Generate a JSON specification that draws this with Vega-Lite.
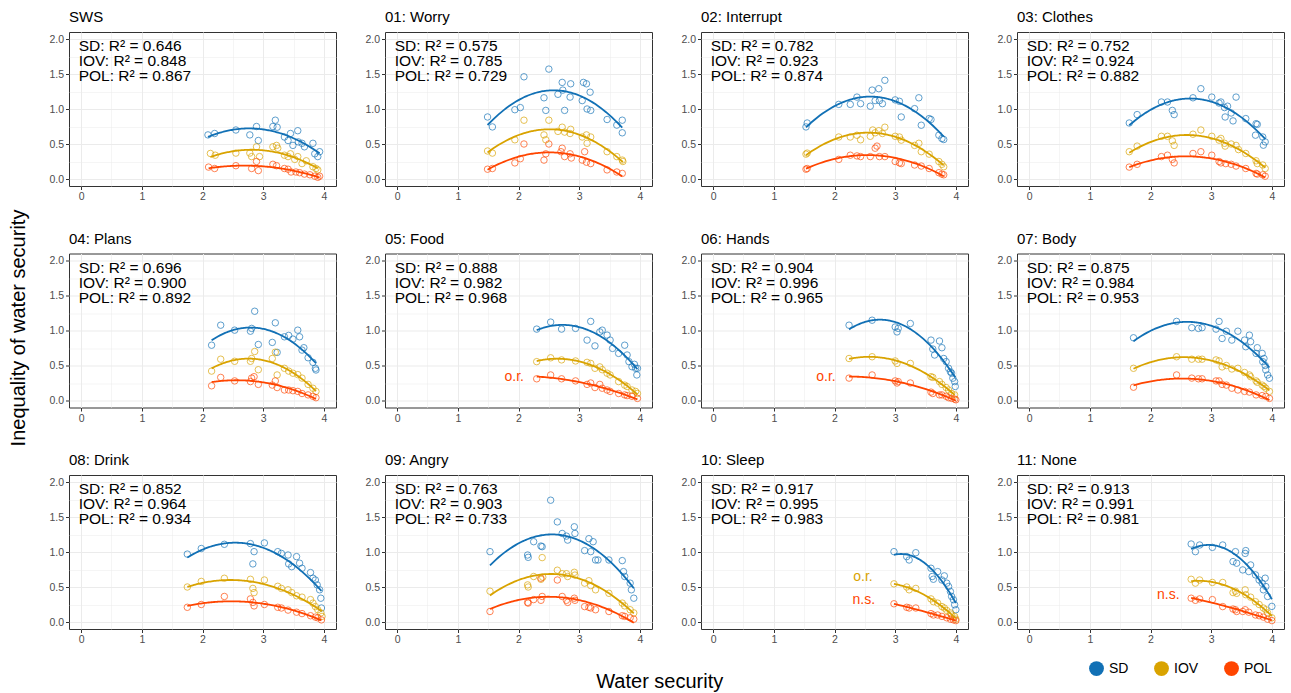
{
"$schema": "https://vega.github.io/schema/vega-lite/v6.json",
"padding": {"left": 8, "top": 9, "right": 0, "bottom": 0},
"background": "white",
"datasets": {
"panels": [
{"p":"SWS","t":"SWS","r":1,"c":1,"lab":"SD: R² = 0.646\nIOV: R² = 0.848\nPOL: R² = 0.867"},
{"p":"01","t":"01: Worry","r":1,"c":2,"lab":"SD: R² = 0.575\nIOV: R² = 0.785\nPOL: R² = 0.729"},
{"p":"02","t":"02: Interrupt","r":1,"c":3,"lab":"SD: R² = 0.782\nIOV: R² = 0.923\nPOL: R² = 0.874"},
{"p":"03","t":"03: Clothes","r":1,"c":4,"lab":"SD: R² = 0.752\nIOV: R² = 0.924\nPOL: R² = 0.882"},
{"p":"04","t":"04: Plans","r":2,"c":1,"lab":"SD: R² = 0.696\nIOV: R² = 0.900\nPOL: R² = 0.892"},
{"p":"05","t":"05: Food","r":2,"c":2,"lab":"SD: R² = 0.888\nIOV: R² = 0.982\nPOL: R² = 0.968"},
{"p":"06","t":"06: Hands","r":2,"c":3,"lab":"SD: R² = 0.904\nIOV: R² = 0.996\nPOL: R² = 0.965"},
{"p":"07","t":"07: Body","r":2,"c":4,"lab":"SD: R² = 0.875\nIOV: R² = 0.984\nPOL: R² = 0.953"},
{"p":"08","t":"08: Drink","r":3,"c":1,"lab":"SD: R² = 0.852\nIOV: R² = 0.964\nPOL: R² = 0.934"},
{"p":"09","t":"09: Angry","r":3,"c":2,"lab":"SD: R² = 0.763\nIOV: R² = 0.903\nPOL: R² = 0.733"},
{"p":"10","t":"10: Sleep","r":3,"c":3,"lab":"SD: R² = 0.917\nIOV: R² = 0.995\nPOL: R² = 0.983"},
{"p":"11","t":"11: None","r":3,"c":4,"lab":"SD: R² = 0.913\nIOV: R² = 0.991\nPOL: R² = 0.981"}
],
"rows": [
{"p":"SWS","k":"lab"},{"p":"01","k":"lab"},{"p":"02","k":"lab"},{"p":"03","k":"lab"},{"p":"04","k":"lab"},{"p":"05","k":"lab"},{"p":"06","k":"lab"},{"p":"07","k":"lab"},{"p":"08","k":"lab"},{"p":"09","k":"lab"},{"p":"10","k":"lab"},{"p":"11","k":"lab"},
{"p":"05","k":"note","s":"POL","x":2.09,"y":0.33,"note":"o.r."},
{"p":"06","k":"note","s":"POL","x":2.02,"y":0.33,"note":"o.r."},
{"p":"10","k":"note","s":"IOV","x":2.63,"y":0.65,"note":"o.r."},
{"p":"10","k":"note","s":"POL","x":2.67,"y":0.31,"note":"n.s."},
{"p":"11","k":"note","s":"POL","x":2.48,"y":0.39,"note":"n.s."},
{"p":"SWS","s":"SD","x":2.09,"y":0.63},{"p":"SWS","s":"SD","x":2.20,"y":0.65},{"p":"SWS","s":"SD","x":2.55,"y":0.70},{"p":"SWS","s":"SD","x":2.78,"y":0.63},{"p":"SWS","s":"SD","x":2.89,"y":0.75},{"p":"SWS","s":"SD","x":2.92,"y":0.55},{"p":"SWS","s":"SD","x":3.16,"y":0.75},{"p":"SWS","s":"SD","x":3.20,"y":0.84},{"p":"SWS","s":"SD","x":3.23,"y":0.74},{"p":"SWS","s":"SD","x":3.35,"y":0.60},{"p":"SWS","s":"SD","x":3.41,"y":0.55},{"p":"SWS","s":"SD","x":3.45,"y":0.65},{"p":"SWS","s":"SD","x":3.49,"y":0.48},{"p":"SWS","s":"SD","x":3.57,"y":0.69},{"p":"SWS","s":"SD","x":3.58,"y":0.53},{"p":"SWS","s":"SD","x":3.64,"y":0.51},{"p":"SWS","s":"SD","x":3.68,"y":0.46},{"p":"SWS","s":"SD","x":3.82,"y":0.51},{"p":"SWS","s":"SD","x":3.85,"y":0.36},{"p":"SWS","s":"SD","x":3.90,"y":0.32},{"p":"SWS","s":"SD","x":3.93,"y":0.39},
{"p":"SWS","s":"IOV","x":2.13,"y":0.365},{"p":"SWS","s":"IOV","x":2.21,"y":0.34},{"p":"SWS","s":"IOV","x":2.55,"y":0.37},{"p":"SWS","s":"IOV","x":2.78,"y":0.37},{"p":"SWS","s":"IOV","x":2.81,"y":0.32},{"p":"SWS","s":"IOV","x":2.89,"y":0.46},{"p":"SWS","s":"IOV","x":2.94,"y":0.32},{"p":"SWS","s":"IOV","x":3.16,"y":0.46},{"p":"SWS","s":"IOV","x":3.22,"y":0.48},{"p":"SWS","s":"IOV","x":3.24,"y":0.44},{"p":"SWS","s":"IOV","x":3.35,"y":0.34},{"p":"SWS","s":"IOV","x":3.41,"y":0.32},{"p":"SWS","s":"IOV","x":3.45,"y":0.36},{"p":"SWS","s":"IOV","x":3.52,"y":0.28},{"p":"SWS","s":"IOV","x":3.57,"y":0.32},{"p":"SWS","s":"IOV","x":3.64,"y":0.22},{"p":"SWS","s":"IOV","x":3.71,"y":0.26},{"p":"SWS","s":"IOV","x":3.82,"y":0.175},{"p":"SWS","s":"IOV","x":3.87,"y":0.15},{"p":"SWS","s":"IOV","x":3.90,"y":0.13},
{"p":"SWS","s":"POL","x":2.10,"y":0.17},{"p":"SWS","s":"POL","x":2.20,"y":0.15},{"p":"SWS","s":"POL","x":2.55,"y":0.19},{"p":"SWS","s":"POL","x":2.81,"y":0.15},{"p":"SWS","s":"POL","x":2.92,"y":0.12},{"p":"SWS","s":"POL","x":2.89,"y":0.25},{"p":"SWS","s":"POL","x":3.16,"y":0.21},{"p":"SWS","s":"POL","x":3.22,"y":0.19},{"p":"SWS","s":"POL","x":3.35,"y":0.15},{"p":"SWS","s":"POL","x":3.41,"y":0.14},{"p":"SWS","s":"POL","x":3.46,"y":0.10},{"p":"SWS","s":"POL","x":3.54,"y":0.10},{"p":"SWS","s":"POL","x":3.60,"y":0.09},{"p":"SWS","s":"POL","x":3.68,"y":0.07},{"p":"SWS","s":"POL","x":3.77,"y":0.06},{"p":"SWS","s":"POL","x":3.85,"y":0.04},{"p":"SWS","s":"POL","x":3.90,"y":0.024},{"p":"SWS","s":"POL","x":3.93,"y":0.04},
{"p":"01","s":"SD","x":1.49,"y":0.886},{"p":"01","s":"SD","x":1.57,"y":0.744},{"p":"01","s":"SD","x":1.94,"y":0.99},{"p":"01","s":"SD","x":2.03,"y":1.02},{"p":"01","s":"SD","x":2.09,"y":1.46},{"p":"01","s":"SD","x":2.42,"y":1.16},{"p":"01","s":"SD","x":2.45,"y":0.98},{"p":"01","s":"SD","x":2.50,"y":1.57},{"p":"01","s":"SD","x":2.65,"y":1.21},{"p":"01","s":"SD","x":2.72,"y":1.38},{"p":"01","s":"SD","x":2.73,"y":1.27},{"p":"01","s":"SD","x":2.76,"y":0.98},{"p":"01","s":"SD","x":2.85,"y":1.17},{"p":"01","s":"SD","x":2.86,"y":1.36},{"p":"01","s":"SD","x":3.05,"y":1.12},{"p":"01","s":"SD","x":3.07,"y":1.38},{"p":"01","s":"SD","x":3.12,"y":1.36},{"p":"01","s":"SD","x":3.13,"y":1.00},{"p":"01","s":"SD","x":3.18,"y":1.24},{"p":"01","s":"SD","x":3.19,"y":0.98},{"p":"01","s":"SD","x":3.46,"y":0.85},{"p":"01","s":"SD","x":3.62,"y":0.77},{"p":"01","s":"SD","x":3.71,"y":0.84},{"p":"01","s":"SD","x":3.71,"y":0.66},
{"p":"01","s":"IOV","x":1.49,"y":0.40},{"p":"01","s":"IOV","x":1.57,"y":0.37},{"p":"01","s":"IOV","x":1.94,"y":0.56},{"p":"01","s":"IOV","x":2.09,"y":0.84},{"p":"01","s":"IOV","x":2.42,"y":0.63},{"p":"01","s":"IOV","x":2.45,"y":0.56},{"p":"01","s":"IOV","x":2.50,"y":0.84},{"p":"01","s":"IOV","x":2.65,"y":0.68},{"p":"01","s":"IOV","x":2.72,"y":0.74},{"p":"01","s":"IOV","x":2.76,"y":0.67},{"p":"01","s":"IOV","x":2.85,"y":0.65},{"p":"01","s":"IOV","x":2.86,"y":0.71},{"p":"01","s":"IOV","x":3.05,"y":0.60},{"p":"01","s":"IOV","x":3.12,"y":0.63},{"p":"01","s":"IOV","x":3.13,"y":0.51},{"p":"01","s":"IOV","x":3.19,"y":0.60},{"p":"01","s":"IOV","x":3.46,"y":0.39},{"p":"01","s":"IOV","x":3.62,"y":0.32},{"p":"01","s":"IOV","x":3.71,"y":0.27},{"p":"01","s":"IOV","x":3.72,"y":0.25},
{"p":"01","s":"POL","x":1.49,"y":0.14},{"p":"01","s":"POL","x":1.57,"y":0.15},{"p":"01","s":"POL","x":1.94,"y":0.23},{"p":"01","s":"POL","x":2.03,"y":0.29},{"p":"01","s":"POL","x":2.09,"y":0.50},{"p":"01","s":"POL","x":2.42,"y":0.27},{"p":"01","s":"POL","x":2.45,"y":0.36},{"p":"01","s":"POL","x":2.50,"y":0.50},{"p":"01","s":"POL","x":2.70,"y":0.39},{"p":"01","s":"POL","x":2.72,"y":0.44},{"p":"01","s":"POL","x":2.76,"y":0.32},{"p":"01","s":"POL","x":2.85,"y":0.36},{"p":"01","s":"POL","x":2.87,"y":0.30},{"p":"01","s":"POL","x":3.05,"y":0.27},{"p":"01","s":"POL","x":3.09,"y":0.39},{"p":"01","s":"POL","x":3.12,"y":0.24},{"p":"01","s":"POL","x":3.19,"y":0.22},{"p":"01","s":"POL","x":3.46,"y":0.13},{"p":"01","s":"POL","x":3.62,"y":0.10},{"p":"01","s":"POL","x":3.71,"y":0.08},
{"p":"02","s":"SD","x":1.53,"y":0.744},{"p":"02","s":"SD","x":1.55,"y":0.80},{"p":"02","s":"SD","x":2.07,"y":1.066},{"p":"02","s":"SD","x":2.26,"y":1.066},{"p":"02","s":"SD","x":2.37,"y":1.17},{"p":"02","s":"SD","x":2.43,"y":1.076},{"p":"02","s":"SD","x":2.59,"y":1.04},{"p":"02","s":"SD","x":2.62,"y":1.27},{"p":"02","s":"SD","x":2.67,"y":1.12},{"p":"02","s":"SD","x":2.73,"y":1.29},{"p":"02","s":"SD","x":2.74,"y":1.12},{"p":"02","s":"SD","x":2.83,"y":1.41},{"p":"02","s":"SD","x":2.79,"y":1.076},{"p":"02","s":"SD","x":3.00,"y":1.13},{"p":"02","s":"SD","x":3.07,"y":1.11},{"p":"02","s":"SD","x":3.10,"y":0.886},{"p":"02","s":"SD","x":3.32,"y":1.005},{"p":"02","s":"SD","x":3.39,"y":1.16},{"p":"02","s":"SD","x":3.43,"y":0.768},{"p":"02","s":"SD","x":3.56,"y":0.863},{"p":"02","s":"SD","x":3.59,"y":0.85},{"p":"02","s":"SD","x":3.72,"y":0.626},{"p":"02","s":"SD","x":3.77,"y":0.578},{"p":"02","s":"SD","x":3.80,"y":0.564},
{"p":"02","s":"IOV","x":1.53,"y":0.355},{"p":"02","s":"IOV","x":1.55,"y":0.37},{"p":"02","s":"IOV","x":2.07,"y":0.60},{"p":"02","s":"IOV","x":2.26,"y":0.60},{"p":"02","s":"IOV","x":2.37,"y":0.625},{"p":"02","s":"IOV","x":2.43,"y":0.56},{"p":"02","s":"IOV","x":2.59,"y":0.61},{"p":"02","s":"IOV","x":2.63,"y":0.70},{"p":"02","s":"IOV","x":2.67,"y":0.66},{"p":"02","s":"IOV","x":2.73,"y":0.69},{"p":"02","s":"IOV","x":2.79,"y":0.65},{"p":"02","s":"IOV","x":2.83,"y":0.74},{"p":"02","s":"IOV","x":3.00,"y":0.61},{"p":"02","s":"IOV","x":3.07,"y":0.60},{"p":"02","s":"IOV","x":3.10,"y":0.555},{"p":"02","s":"IOV","x":3.32,"y":0.48},{"p":"02","s":"IOV","x":3.39,"y":0.51},{"p":"02","s":"IOV","x":3.43,"y":0.39},{"p":"02","s":"IOV","x":3.56,"y":0.355},{"p":"02","s":"IOV","x":3.72,"y":0.25},{"p":"02","s":"IOV","x":3.77,"y":0.21},{"p":"02","s":"IOV","x":3.80,"y":0.175},
{"p":"02","s":"POL","x":1.53,"y":0.14},{"p":"02","s":"POL","x":1.55,"y":0.15},{"p":"02","s":"POL","x":2.07,"y":0.28},{"p":"02","s":"POL","x":2.26,"y":0.34},{"p":"02","s":"POL","x":2.37,"y":0.33},{"p":"02","s":"POL","x":2.43,"y":0.32},{"p":"02","s":"POL","x":2.59,"y":0.32},{"p":"02","s":"POL","x":2.67,"y":0.44},{"p":"02","s":"POL","x":2.70,"y":0.47},{"p":"02","s":"POL","x":2.74,"y":0.32},{"p":"02","s":"POL","x":2.83,"y":0.32},{"p":"02","s":"POL","x":3.00,"y":0.25},{"p":"02","s":"POL","x":3.07,"y":0.23},{"p":"02","s":"POL","x":3.10,"y":0.22},{"p":"02","s":"POL","x":3.32,"y":0.20},{"p":"02","s":"POL","x":3.43,"y":0.185},{"p":"02","s":"POL","x":3.56,"y":0.15},{"p":"02","s":"POL","x":3.72,"y":0.09},{"p":"02","s":"POL","x":3.77,"y":0.07},{"p":"02","s":"POL","x":3.80,"y":0.06},
{"p":"03","s":"SD","x":1.65,"y":0.80},{"p":"03","s":"SD","x":1.78,"y":0.92},{"p":"03","s":"SD","x":2.18,"y":1.10},{"p":"03","s":"SD","x":2.28,"y":1.10},{"p":"03","s":"SD","x":2.36,"y":0.98},{"p":"03","s":"SD","x":2.39,"y":0.92},{"p":"03","s":"SD","x":2.70,"y":1.16},{"p":"03","s":"SD","x":2.83,"y":1.29},{"p":"03","s":"SD","x":3.01,"y":1.17},{"p":"03","s":"SD","x":3.13,"y":1.085},{"p":"03","s":"SD","x":3.16,"y":1.10},{"p":"03","s":"SD","x":3.22,"y":1.02},{"p":"03","s":"SD","x":3.23,"y":0.886},{"p":"03","s":"SD","x":3.27,"y":1.04},{"p":"03","s":"SD","x":3.33,"y":0.943},{"p":"03","s":"SD","x":3.36,"y":0.83},{"p":"03","s":"SD","x":3.41,"y":1.17},{"p":"03","s":"SD","x":3.57,"y":0.863},{"p":"03","s":"SD","x":3.74,"y":0.79},{"p":"03","s":"SD","x":3.76,"y":0.78},{"p":"03","s":"SD","x":3.73,"y":0.626},{"p":"03","s":"SD","x":3.85,"y":0.60},{"p":"03","s":"SD","x":3.89,"y":0.53},{"p":"03","s":"SD","x":3.86,"y":0.483},
{"p":"03","s":"IOV","x":1.65,"y":0.39},{"p":"03","s":"IOV","x":1.78,"y":0.47},{"p":"03","s":"IOV","x":2.18,"y":0.61},{"p":"03","s":"IOV","x":2.28,"y":0.61},{"p":"03","s":"IOV","x":2.36,"y":0.545},{"p":"03","s":"IOV","x":2.39,"y":0.48},{"p":"03","s":"IOV","x":2.70,"y":0.64},{"p":"03","s":"IOV","x":2.83,"y":0.70},{"p":"03","s":"IOV","x":3.01,"y":0.61},{"p":"03","s":"IOV","x":3.13,"y":0.555},{"p":"03","s":"IOV","x":3.16,"y":0.58},{"p":"03","s":"IOV","x":3.22,"y":0.51},{"p":"03","s":"IOV","x":3.23,"y":0.47},{"p":"03","s":"IOV","x":3.33,"y":0.50},{"p":"03","s":"IOV","x":3.41,"y":0.48},{"p":"03","s":"IOV","x":3.45,"y":0.42},{"p":"03","s":"IOV","x":3.57,"y":0.365},{"p":"03","s":"IOV","x":3.74,"y":0.26},{"p":"03","s":"IOV","x":3.76,"y":0.22},{"p":"03","s":"IOV","x":3.85,"y":0.20},{"p":"03","s":"IOV","x":3.89,"y":0.15},
{"p":"03","s":"POL","x":1.65,"y":0.17},{"p":"03","s":"POL","x":1.78,"y":0.21},{"p":"03","s":"POL","x":2.18,"y":0.32},{"p":"03","s":"POL","x":2.28,"y":0.34},{"p":"03","s":"POL","x":2.36,"y":0.28},{"p":"03","s":"POL","x":2.39,"y":0.23},{"p":"03","s":"POL","x":2.70,"y":0.365},{"p":"03","s":"POL","x":2.83,"y":0.39},{"p":"03","s":"POL","x":3.01,"y":0.34},{"p":"03","s":"POL","x":3.13,"y":0.25},{"p":"03","s":"POL","x":3.16,"y":0.23},{"p":"03","s":"POL","x":3.24,"y":0.22},{"p":"03","s":"POL","x":3.33,"y":0.21},{"p":"03","s":"POL","x":3.41,"y":0.185},{"p":"03","s":"POL","x":3.57,"y":0.15},{"p":"03","s":"POL","x":3.74,"y":0.08},{"p":"03","s":"POL","x":3.76,"y":0.07},{"p":"03","s":"POL","x":3.85,"y":0.06},{"p":"03","s":"POL","x":3.89,"y":0.04},
{"p":"04","s":"SD","x":2.15,"y":0.79},{"p":"04","s":"SD","x":2.30,"y":1.076},{"p":"04","s":"SD","x":2.53,"y":1.005},{"p":"04","s":"SD","x":2.79,"y":0.99},{"p":"04","s":"SD","x":2.81,"y":1.03},{"p":"04","s":"SD","x":2.86,"y":1.275},{"p":"04","s":"SD","x":2.92,"y":0.80},{"p":"04","s":"SD","x":3.15,"y":0.83},{"p":"04","s":"SD","x":3.20,"y":1.11},{"p":"04","s":"SD","x":3.23,"y":0.687},{"p":"04","s":"SD","x":3.35,"y":0.91},{"p":"04","s":"SD","x":3.42,"y":0.93},{"p":"04","s":"SD","x":3.49,"y":0.877},{"p":"04","s":"SD","x":3.57,"y":1.005},{"p":"04","s":"SD","x":3.60,"y":0.91},{"p":"04","s":"SD","x":3.64,"y":0.72},{"p":"04","s":"SD","x":3.67,"y":0.754},{"p":"04","s":"SD","x":3.74,"y":0.611},{"p":"04","s":"SD","x":3.82,"y":0.545},{"p":"04","s":"SD","x":3.86,"y":0.46},{"p":"04","s":"SD","x":3.87,"y":0.436},
{"p":"04","s":"IOV","x":2.15,"y":0.42},{"p":"04","s":"IOV","x":2.30,"y":0.59},{"p":"04","s":"IOV","x":2.53,"y":0.56},{"p":"04","s":"IOV","x":2.79,"y":0.56},{"p":"04","s":"IOV","x":2.81,"y":0.60},{"p":"04","s":"IOV","x":2.86,"y":0.70},{"p":"04","s":"IOV","x":2.92,"y":0.44},{"p":"04","s":"IOV","x":3.15,"y":0.60},{"p":"04","s":"IOV","x":3.20,"y":0.69},{"p":"04","s":"IOV","x":3.23,"y":0.365},{"p":"04","s":"IOV","x":3.35,"y":0.46},{"p":"04","s":"IOV","x":3.42,"y":0.42},{"p":"04","s":"IOV","x":3.49,"y":0.39},{"p":"04","s":"IOV","x":3.57,"y":0.37},{"p":"04","s":"IOV","x":3.64,"y":0.32},{"p":"04","s":"IOV","x":3.74,"y":0.23},{"p":"04","s":"IOV","x":3.82,"y":0.175},{"p":"04","s":"IOV","x":3.87,"y":0.13},
{"p":"04","s":"POL","x":2.15,"y":0.21},{"p":"04","s":"POL","x":2.30,"y":0.33},{"p":"04","s":"POL","x":2.53,"y":0.28},{"p":"04","s":"POL","x":2.79,"y":0.27},{"p":"04","s":"POL","x":2.81,"y":0.32},{"p":"04","s":"POL","x":2.85,"y":0.34},{"p":"04","s":"POL","x":2.92,"y":0.23},{"p":"04","s":"POL","x":3.15,"y":0.22},{"p":"04","s":"POL","x":3.20,"y":0.28},{"p":"04","s":"POL","x":3.23,"y":0.185},{"p":"04","s":"POL","x":3.35,"y":0.15},{"p":"04","s":"POL","x":3.42,"y":0.15},{"p":"04","s":"POL","x":3.49,"y":0.14},{"p":"04","s":"POL","x":3.57,"y":0.13},{"p":"04","s":"POL","x":3.64,"y":0.10},{"p":"04","s":"POL","x":3.74,"y":0.08},{"p":"04","s":"POL","x":3.82,"y":0.06},{"p":"04","s":"POL","x":3.87,"y":0.04},
{"p":"05","s":"SD","x":2.30,"y":1.02},{"p":"05","s":"SD","x":2.53,"y":1.12},{"p":"05","s":"SD","x":2.71,"y":1.02},{"p":"05","s":"SD","x":2.94,"y":1.03},{"p":"05","s":"SD","x":3.13,"y":0.863},{"p":"05","s":"SD","x":3.19,"y":1.13},{"p":"05","s":"SD","x":3.26,"y":0.78},{"p":"05","s":"SD","x":3.34,"y":0.98},{"p":"05","s":"SD","x":3.38,"y":1.005},{"p":"05","s":"SD","x":3.46,"y":0.934},{"p":"05","s":"SD","x":3.51,"y":0.863},{"p":"05","s":"SD","x":3.55,"y":0.744},{"p":"05","s":"SD","x":3.65,"y":0.673},{"p":"05","s":"SD","x":3.75,"y":0.79},{"p":"05","s":"SD","x":3.79,"y":0.65},{"p":"05","s":"SD","x":3.82,"y":0.555},{"p":"05","s":"SD","x":3.87,"y":0.483},{"p":"05","s":"SD","x":3.91,"y":0.517},{"p":"05","s":"SD","x":3.96,"y":0.46},{"p":"05","s":"SD","x":3.93,"y":0.46},{"p":"05","s":"SD","x":3.95,"y":0.365},
{"p":"05","s":"IOV","x":2.30,"y":0.555},{"p":"05","s":"IOV","x":2.53,"y":0.61},{"p":"05","s":"IOV","x":2.71,"y":0.58},{"p":"05","s":"IOV","x":2.94,"y":0.565},{"p":"05","s":"IOV","x":3.13,"y":0.545},{"p":"05","s":"IOV","x":3.19,"y":0.53},{"p":"05","s":"IOV","x":3.26,"y":0.46},{"p":"05","s":"IOV","x":3.34,"y":0.48},{"p":"05","s":"IOV","x":3.38,"y":0.44},{"p":"05","s":"IOV","x":3.46,"y":0.39},{"p":"05","s":"IOV","x":3.51,"y":0.365},{"p":"05","s":"IOV","x":3.65,"y":0.27},{"p":"05","s":"IOV","x":3.75,"y":0.22},{"p":"05","s":"IOV","x":3.79,"y":0.20},{"p":"05","s":"IOV","x":3.87,"y":0.15},{"p":"05","s":"IOV","x":3.93,"y":0.13},{"p":"05","s":"IOV","x":3.96,"y":0.10},
{"p":"05","s":"POL","x":2.30,"y":0.31},{"p":"05","s":"POL","x":2.53,"y":0.365},{"p":"05","s":"POL","x":2.71,"y":0.31},{"p":"05","s":"POL","x":2.94,"y":0.28},{"p":"05","s":"POL","x":3.13,"y":0.23},{"p":"05","s":"POL","x":3.19,"y":0.25},{"p":"05","s":"POL","x":3.26,"y":0.185},{"p":"05","s":"POL","x":3.34,"y":0.23},{"p":"05","s":"POL","x":3.38,"y":0.175},{"p":"05","s":"POL","x":3.46,"y":0.15},{"p":"05","s":"POL","x":3.51,"y":0.13},{"p":"05","s":"POL","x":3.65,"y":0.10},{"p":"05","s":"POL","x":3.75,"y":0.08},{"p":"05","s":"POL","x":3.79,"y":0.07},{"p":"05","s":"POL","x":3.87,"y":0.06},{"p":"05","s":"POL","x":3.96,"y":0.03},
{"p":"06","s":"SD","x":2.24,"y":1.076},{"p":"06","s":"SD","x":2.62,"y":1.147},{"p":"06","s":"SD","x":3.00,"y":1.05},{"p":"06","s":"SD","x":3.03,"y":0.98},{"p":"06","s":"SD","x":3.05,"y":1.03},{"p":"06","s":"SD","x":3.25,"y":1.10},{"p":"06","s":"SD","x":3.59,"y":0.863},{"p":"06","s":"SD","x":3.62,"y":0.735},{"p":"06","s":"SD","x":3.65,"y":0.65},{"p":"06","s":"SD","x":3.73,"y":0.85},{"p":"06","s":"SD","x":3.77,"y":0.754},{"p":"06","s":"SD","x":3.80,"y":0.60},{"p":"06","s":"SD","x":3.84,"y":0.555},{"p":"06","s":"SD","x":3.88,"y":0.46},{"p":"06","s":"SD","x":3.91,"y":0.41},{"p":"06","s":"SD","x":3.93,"y":0.39},{"p":"06","s":"SD","x":3.95,"y":0.318},{"p":"06","s":"SD","x":3.98,"y":0.27},{"p":"06","s":"SD","x":3.99,"y":0.20},
{"p":"06","s":"IOV","x":2.24,"y":0.60},{"p":"06","s":"IOV","x":2.62,"y":0.625},{"p":"06","s":"IOV","x":3.00,"y":0.565},{"p":"06","s":"IOV","x":3.03,"y":0.53},{"p":"06","s":"IOV","x":3.25,"y":0.53},{"p":"06","s":"IOV","x":3.59,"y":0.34},{"p":"06","s":"IOV","x":3.62,"y":0.33},{"p":"06","s":"IOV","x":3.73,"y":0.27},{"p":"06","s":"IOV","x":3.77,"y":0.23},{"p":"06","s":"IOV","x":3.84,"y":0.185},{"p":"06","s":"IOV","x":3.88,"y":0.15},{"p":"06","s":"IOV","x":3.93,"y":0.10},{"p":"06","s":"IOV","x":3.98,"y":0.08},
{"p":"06","s":"POL","x":2.24,"y":0.32},{"p":"06","s":"POL","x":2.62,"y":0.365},{"p":"06","s":"POL","x":3.00,"y":0.28},{"p":"06","s":"POL","x":3.03,"y":0.25},{"p":"06","s":"POL","x":3.05,"y":0.27},{"p":"06","s":"POL","x":3.25,"y":0.25},{"p":"06","s":"POL","x":3.59,"y":0.12},{"p":"06","s":"POL","x":3.62,"y":0.10},{"p":"06","s":"POL","x":3.73,"y":0.08},{"p":"06","s":"POL","x":3.77,"y":0.08},{"p":"06","s":"POL","x":3.84,"y":0.06},{"p":"06","s":"POL","x":3.88,"y":0.04},{"p":"06","s":"POL","x":3.93,"y":0.03},{"p":"06","s":"POL","x":3.98,"y":0.02},{"p":"06","s":"POL","x":4.00,"y":0.01},
{"p":"07","s":"SD","x":1.72,"y":0.896},{"p":"07","s":"SD","x":2.43,"y":1.13},{"p":"07","s":"SD","x":2.68,"y":1.04},{"p":"07","s":"SD","x":2.79,"y":1.03},{"p":"07","s":"SD","x":2.85,"y":1.04},{"p":"07","s":"SD","x":3.08,"y":1.02},{"p":"07","s":"SD","x":3.13,"y":1.13},{"p":"07","s":"SD","x":3.18,"y":0.886},{"p":"07","s":"SD","x":3.25,"y":0.99},{"p":"07","s":"SD","x":3.34,"y":0.863},{"p":"07","s":"SD","x":3.44,"y":0.99},{"p":"07","s":"SD","x":3.55,"y":0.863},{"p":"07","s":"SD","x":3.57,"y":0.768},{"p":"07","s":"SD","x":3.63,"y":0.934},{"p":"07","s":"SD","x":3.65,"y":0.84},{"p":"07","s":"SD","x":3.74,"y":0.673},{"p":"07","s":"SD","x":3.76,"y":0.754},{"p":"07","s":"SD","x":3.84,"y":0.673},{"p":"07","s":"SD","x":3.85,"y":0.555},{"p":"07","s":"SD","x":3.87,"y":0.60},{"p":"07","s":"SD","x":3.89,"y":0.50},{"p":"07","s":"SD","x":3.90,"y":0.436},{"p":"07","s":"SD","x":3.93,"y":0.365},{"p":"07","s":"SD","x":3.96,"y":0.318},
{"p":"07","s":"IOV","x":1.72,"y":0.46},{"p":"07","s":"IOV","x":2.43,"y":0.625},{"p":"07","s":"IOV","x":2.68,"y":0.59},{"p":"07","s":"IOV","x":2.79,"y":0.59},{"p":"07","s":"IOV","x":2.85,"y":0.59},{"p":"07","s":"IOV","x":3.08,"y":0.58},{"p":"07","s":"IOV","x":3.13,"y":0.565},{"p":"07","s":"IOV","x":3.18,"y":0.48},{"p":"07","s":"IOV","x":3.25,"y":0.50},{"p":"07","s":"IOV","x":3.34,"y":0.45},{"p":"07","s":"IOV","x":3.44,"y":0.46},{"p":"07","s":"IOV","x":3.55,"y":0.40},{"p":"07","s":"IOV","x":3.63,"y":0.365},{"p":"07","s":"IOV","x":3.65,"y":0.34},{"p":"07","s":"IOV","x":3.74,"y":0.28},{"p":"07","s":"IOV","x":3.76,"y":0.26},{"p":"07","s":"IOV","x":3.84,"y":0.22},{"p":"07","s":"IOV","x":3.87,"y":0.20},{"p":"07","s":"IOV","x":3.90,"y":0.175},{"p":"07","s":"IOV","x":3.96,"y":0.13},
{"p":"07","s":"POL","x":1.72,"y":0.19},{"p":"07","s":"POL","x":2.43,"y":0.365},{"p":"07","s":"POL","x":2.68,"y":0.32},{"p":"07","s":"POL","x":2.79,"y":0.31},{"p":"07","s":"POL","x":2.85,"y":0.31},{"p":"07","s":"POL","x":3.08,"y":0.28},{"p":"07","s":"POL","x":3.13,"y":0.28},{"p":"07","s":"POL","x":3.18,"y":0.23},{"p":"07","s":"POL","x":3.25,"y":0.22},{"p":"07","s":"POL","x":3.34,"y":0.175},{"p":"07","s":"POL","x":3.44,"y":0.15},{"p":"07","s":"POL","x":3.55,"y":0.13},{"p":"07","s":"POL","x":3.63,"y":0.12},{"p":"07","s":"POL","x":3.74,"y":0.08},{"p":"07","s":"POL","x":3.84,"y":0.07},{"p":"07","s":"POL","x":3.90,"y":0.06},{"p":"07","s":"POL","x":3.96,"y":0.03},
{"p":"08","s":"SD","x":1.75,"y":0.97},{"p":"08","s":"SD","x":1.98,"y":1.05},{"p":"08","s":"SD","x":2.36,"y":1.11},{"p":"08","s":"SD","x":2.79,"y":1.12},{"p":"08","s":"SD","x":2.85,"y":1.005},{"p":"08","s":"SD","x":2.83,"y":0.83},{"p":"08","s":"SD","x":3.02,"y":1.13},{"p":"08","s":"SD","x":3.24,"y":1.005},{"p":"08","s":"SD","x":3.30,"y":0.98},{"p":"08","s":"SD","x":3.41,"y":0.957},{"p":"08","s":"SD","x":3.42,"y":0.83},{"p":"08","s":"SD","x":3.47,"y":0.79},{"p":"08","s":"SD","x":3.55,"y":0.934},{"p":"08","s":"SD","x":3.60,"y":0.84},{"p":"08","s":"SD","x":3.64,"y":0.768},{"p":"08","s":"SD","x":3.78,"y":0.706},{"p":"08","s":"SD","x":3.82,"y":0.626},{"p":"08","s":"SD","x":3.86,"y":0.60},{"p":"08","s":"SD","x":3.89,"y":0.53},{"p":"08","s":"SD","x":3.93,"y":0.46},{"p":"08","s":"SD","x":3.95,"y":0.34},{"p":"08","s":"SD","x":3.96,"y":0.20},
{"p":"08","s":"IOV","x":1.75,"y":0.50},{"p":"08","s":"IOV","x":1.98,"y":0.58},{"p":"08","s":"IOV","x":2.36,"y":0.625},{"p":"08","s":"IOV","x":2.79,"y":0.61},{"p":"08","s":"IOV","x":2.83,"y":0.48},{"p":"08","s":"IOV","x":2.85,"y":0.42},{"p":"08","s":"IOV","x":3.02,"y":0.60},{"p":"08","s":"IOV","x":3.24,"y":0.51},{"p":"08","s":"IOV","x":3.30,"y":0.48},{"p":"08","s":"IOV","x":3.41,"y":0.46},{"p":"08","s":"IOV","x":3.47,"y":0.42},{"p":"08","s":"IOV","x":3.55,"y":0.375},{"p":"08","s":"IOV","x":3.64,"y":0.355},{"p":"08","s":"IOV","x":3.78,"y":0.32},{"p":"08","s":"IOV","x":3.82,"y":0.27},{"p":"08","s":"IOV","x":3.86,"y":0.22},{"p":"08","s":"IOV","x":3.90,"y":0.175},{"p":"08","s":"IOV","x":3.95,"y":0.13},{"p":"08","s":"IOV","x":3.97,"y":0.08},
{"p":"08","s":"POL","x":1.75,"y":0.21},{"p":"08","s":"POL","x":1.98,"y":0.25},{"p":"08","s":"POL","x":2.36,"y":0.365},{"p":"08","s":"POL","x":2.79,"y":0.33},{"p":"08","s":"POL","x":2.83,"y":0.28},{"p":"08","s":"POL","x":2.85,"y":0.23},{"p":"08","s":"POL","x":3.02,"y":0.25},{"p":"08","s":"POL","x":3.24,"y":0.21},{"p":"08","s":"POL","x":3.30,"y":0.20},{"p":"08","s":"POL","x":3.41,"y":0.17},{"p":"08","s":"POL","x":3.55,"y":0.14},{"p":"08","s":"POL","x":3.64,"y":0.12},{"p":"08","s":"POL","x":3.78,"y":0.09},{"p":"08","s":"POL","x":3.86,"y":0.07},{"p":"08","s":"POL","x":3.90,"y":0.06},{"p":"08","s":"POL","x":3.96,"y":0.03},
{"p":"09","s":"SD","x":1.53,"y":1.005},{"p":"09","s":"SD","x":2.15,"y":0.957},{"p":"09","s":"SD","x":2.16,"y":0.924},{"p":"09","s":"SD","x":2.25,"y":1.147},{"p":"09","s":"SD","x":2.37,"y":1.085},{"p":"09","s":"SD","x":2.39,"y":1.076},{"p":"09","s":"SD","x":2.53,"y":1.74},{"p":"09","s":"SD","x":2.64,"y":1.43},{"p":"09","s":"SD","x":2.72,"y":1.265},{"p":"09","s":"SD","x":2.79,"y":1.227},{"p":"09","s":"SD","x":2.81,"y":1.17},{"p":"09","s":"SD","x":2.92,"y":1.36},{"p":"09","s":"SD","x":2.93,"y":1.265},{"p":"09","s":"SD","x":3.09,"y":1.02},{"p":"09","s":"SD","x":3.16,"y":1.19},{"p":"09","s":"SD","x":3.19,"y":1.005},{"p":"09","s":"SD","x":3.23,"y":1.147},{"p":"09","s":"SD","x":3.27,"y":0.886},{"p":"09","s":"SD","x":3.31,"y":0.886},{"p":"09","s":"SD","x":3.49,"y":0.886},{"p":"09","s":"SD","x":3.71,"y":0.877},{"p":"09","s":"SD","x":3.73,"y":0.72},{"p":"09","s":"SD","x":3.75,"y":0.65},{"p":"09","s":"SD","x":3.84,"y":0.555},{"p":"09","s":"SD","x":3.86,"y":0.46},{"p":"09","s":"SD","x":3.90,"y":0.34},
{"p":"09","s":"IOV","x":1.53,"y":0.44},{"p":"09","s":"IOV","x":2.15,"y":0.53},{"p":"09","s":"IOV","x":2.16,"y":0.50},{"p":"09","s":"IOV","x":2.25,"y":0.65},{"p":"09","s":"IOV","x":2.37,"y":0.61},{"p":"09","s":"IOV","x":2.39,"y":0.92},{"p":"09","s":"IOV","x":2.40,"y":0.64},{"p":"09","s":"IOV","x":2.64,"y":0.74},{"p":"09","s":"IOV","x":2.72,"y":0.69},{"p":"09","s":"IOV","x":2.79,"y":0.69},{"p":"09","s":"IOV","x":2.81,"y":0.65},{"p":"09","s":"IOV","x":2.92,"y":0.71},{"p":"09","s":"IOV","x":2.93,"y":0.67},{"p":"09","s":"IOV","x":3.09,"y":0.555},{"p":"09","s":"IOV","x":3.16,"y":0.59},{"p":"09","s":"IOV","x":3.19,"y":0.52},{"p":"09","s":"IOV","x":3.27,"y":0.46},{"p":"09","s":"IOV","x":3.49,"y":0.41},{"p":"09","s":"IOV","x":3.71,"y":0.27},{"p":"09","s":"IOV","x":3.75,"y":0.23},{"p":"09","s":"IOV","x":3.84,"y":0.175},{"p":"09","s":"IOV","x":3.90,"y":0.13},
{"p":"09","s":"POL","x":1.53,"y":0.15},{"p":"09","s":"POL","x":2.15,"y":0.28},{"p":"09","s":"POL","x":2.16,"y":0.27},{"p":"09","s":"POL","x":2.25,"y":0.32},{"p":"09","s":"POL","x":2.37,"y":0.31},{"p":"09","s":"POL","x":2.39,"y":0.365},{"p":"09","s":"POL","x":2.37,"y":0.625},{"p":"09","s":"POL","x":2.64,"y":0.60},{"p":"09","s":"POL","x":2.72,"y":0.365},{"p":"09","s":"POL","x":2.79,"y":0.31},{"p":"09","s":"POL","x":2.81,"y":0.28},{"p":"09","s":"POL","x":2.92,"y":0.34},{"p":"09","s":"POL","x":2.93,"y":0.31},{"p":"09","s":"POL","x":3.09,"y":0.22},{"p":"09","s":"POL","x":3.16,"y":0.21},{"p":"09","s":"POL","x":3.19,"y":0.20},{"p":"09","s":"POL","x":3.27,"y":0.175},{"p":"09","s":"POL","x":3.49,"y":0.15},{"p":"09","s":"POL","x":3.71,"y":0.09},{"p":"09","s":"POL","x":3.75,"y":0.08},{"p":"09","s":"POL","x":3.84,"y":0.06},{"p":"09","s":"POL","x":3.90,"y":0.04},
{"p":"10","s":"SD","x":2.98,"y":1.005},{"p":"10","s":"SD","x":3.19,"y":0.934},{"p":"10","s":"SD","x":3.23,"y":0.886},{"p":"10","s":"SD","x":3.34,"y":0.99},{"p":"10","s":"SD","x":3.59,"y":0.768},{"p":"10","s":"SD","x":3.61,"y":0.65},{"p":"10","s":"SD","x":3.63,"y":0.611},{"p":"10","s":"SD","x":3.70,"y":0.72},{"p":"10","s":"SD","x":3.77,"y":0.60},{"p":"10","s":"SD","x":3.81,"y":0.659},{"p":"10","s":"SD","x":3.85,"y":0.555},{"p":"10","s":"SD","x":3.88,"y":0.507},{"p":"10","s":"SD","x":3.91,"y":0.436},{"p":"10","s":"SD","x":3.93,"y":0.365},{"p":"10","s":"SD","x":3.96,"y":0.318},{"p":"10","s":"SD","x":3.98,"y":0.246},{"p":"10","s":"SD","x":4.00,"y":0.175},
{"p":"10","s":"IOV","x":2.98,"y":0.545},{"p":"10","s":"IOV","x":3.19,"y":0.50},{"p":"10","s":"IOV","x":3.23,"y":0.46},{"p":"10","s":"IOV","x":3.34,"y":0.48},{"p":"10","s":"IOV","x":3.59,"y":0.33},{"p":"10","s":"IOV","x":3.63,"y":0.29},{"p":"10","s":"IOV","x":3.70,"y":0.27},{"p":"10","s":"IOV","x":3.77,"y":0.22},{"p":"10","s":"IOV","x":3.81,"y":0.20},{"p":"10","s":"IOV","x":3.85,"y":0.165},{"p":"10","s":"IOV","x":3.91,"y":0.13},{"p":"10","s":"IOV","x":3.93,"y":0.10},{"p":"10","s":"IOV","x":3.98,"y":0.08},{"p":"10","s":"IOV","x":4.00,"y":0.04},
{"p":"10","s":"POL","x":2.98,"y":0.26},{"p":"10","s":"POL","x":3.19,"y":0.21},{"p":"10","s":"POL","x":3.23,"y":0.20},{"p":"10","s":"POL","x":3.34,"y":0.20},{"p":"10","s":"POL","x":3.59,"y":0.12},{"p":"10","s":"POL","x":3.63,"y":0.10},{"p":"10","s":"POL","x":3.70,"y":0.10},{"p":"10","s":"POL","x":3.77,"y":0.08},{"p":"10","s":"POL","x":3.85,"y":0.06},{"p":"10","s":"POL","x":3.91,"y":0.04},{"p":"10","s":"POL","x":3.96,"y":0.03},{"p":"10","s":"POL","x":4.00,"y":0.02},
{"p":"11","s":"SD","x":2.67,"y":1.114},{"p":"11","s":"SD","x":2.74,"y":1.005},{"p":"11","s":"SD","x":2.81,"y":1.10},{"p":"11","s":"SD","x":3.02,"y":1.066},{"p":"11","s":"SD","x":3.19,"y":1.10},{"p":"11","s":"SD","x":3.36,"y":0.863},{"p":"11","s":"SD","x":3.40,"y":1.005},{"p":"11","s":"SD","x":3.42,"y":0.84},{"p":"11","s":"SD","x":3.52,"y":0.744},{"p":"11","s":"SD","x":3.56,"y":0.98},{"p":"11","s":"SD","x":3.57,"y":1.02},{"p":"11","s":"SD","x":3.62,"y":0.72},{"p":"11","s":"SD","x":3.65,"y":0.815},{"p":"11","s":"SD","x":3.73,"y":0.673},{"p":"11","s":"SD","x":3.79,"y":0.60},{"p":"11","s":"SD","x":3.84,"y":0.555},{"p":"11","s":"SD","x":3.86,"y":0.46},{"p":"11","s":"SD","x":3.89,"y":0.626},{"p":"11","s":"SD","x":3.90,"y":0.507},{"p":"11","s":"SD","x":3.93,"y":0.365},{"p":"11","s":"SD","x":4.00,"y":0.223},
{"p":"11","s":"IOV","x":2.67,"y":0.61},{"p":"11","s":"IOV","x":2.74,"y":0.555},{"p":"11","s":"IOV","x":2.81,"y":0.60},{"p":"11","s":"IOV","x":3.02,"y":0.565},{"p":"11","s":"IOV","x":3.19,"y":0.565},{"p":"11","s":"IOV","x":3.36,"y":0.42},{"p":"11","s":"IOV","x":3.40,"y":0.44},{"p":"11","s":"IOV","x":3.42,"y":0.41},{"p":"11","s":"IOV","x":3.56,"y":0.46},{"p":"11","s":"IOV","x":3.57,"y":0.39},{"p":"11","s":"IOV","x":3.65,"y":0.355},{"p":"11","s":"IOV","x":3.73,"y":0.29},{"p":"11","s":"IOV","x":3.79,"y":0.25},{"p":"11","s":"IOV","x":3.86,"y":0.20},{"p":"11","s":"IOV","x":3.90,"y":0.175},{"p":"11","s":"IOV","x":3.93,"y":0.13},{"p":"11","s":"IOV","x":4.00,"y":0.06},
{"p":"11","s":"POL","x":2.67,"y":0.34},{"p":"11","s":"POL","x":2.74,"y":0.31},{"p":"11","s":"POL","x":2.81,"y":0.33},{"p":"11","s":"POL","x":3.02,"y":0.32},{"p":"11","s":"POL","x":3.19,"y":0.22},{"p":"11","s":"POL","x":3.36,"y":0.185},{"p":"11","s":"POL","x":3.40,"y":0.175},{"p":"11","s":"POL","x":3.42,"y":0.15},{"p":"11","s":"POL","x":3.52,"y":0.15},{"p":"11","s":"POL","x":3.56,"y":0.175},{"p":"11","s":"POL","x":3.62,"y":0.14},{"p":"11","s":"POL","x":3.73,"y":0.10},{"p":"11","s":"POL","x":3.79,"y":0.09},{"p":"11","s":"POL","x":3.86,"y":0.07},{"p":"11","s":"POL","x":3.93,"y":0.04},{"p":"11","s":"POL","x":4.00,"y":0.02}
]
},
"data": {"name": "rows"},
"transform": [{"lookup": "p", "from": {"data": {"name": "panels"}, "key": "p", "fields": ["r", "c", "t", "lab"]}}],
"title": {"text": "Water security", "orient": "bottom", "anchor": "middle", "fontSize": 20, "fontWeight": "normal", "color": "black", "font": "Liberation Sans", "offset": -4, "dx": 13},
"facet": {
  "row": {"field": "r", "type": "ordinal", "header": {"labels": false, "title": "Inequality of water security", "titleFontSize": 20, "titleFontWeight": "normal", "titleColor": "black", "titleFont": "Liberation Sans", "titlePadding": 30}},
  "column": {"field": "c", "type": "ordinal", "header": {"labels": false, "title": null}}
},
"bounds": "flush",
"spacing": {"row": 67.5, "column": 49},
"resolve": {"axis": {"x": "independent", "y": "independent"}},
"spec": {
  "width": 267,
  "height": 154,
  "layer": [
    {"transform": [{"filter": "false"}],
     "mark": {"type": "point", "shape": "circle", "filled": true, "opacity": 1},
     "encoding": {
       "x": {"field": "x", "type": "quantitative", "scale": {"domain": [-0.2, 4.2], "nice": false, "zero": false},
         "axis": {"title": null, "labelOverlap": false, "values": [0, 0.5, 1, 1.5, 2, 2.5, 3, 3.5, 4], "labelExpr": "datum.value % 1 == 0 ? format(datum.value, '.0f') : ''", "gridWidth": {"condition": {"test": "datum.value % 1 == 0", "value": 1}, "value": 0.5}, "tickOpacity": {"condition": {"test": "datum.value % 1 == 0", "value": 1}, "value": 0}}},
       "y": {"field": "y", "type": "quantitative", "scale": {"domain": [-0.1, 2.1], "nice": false, "zero": false},
         "axis": {"title": null, "labelOverlap": false, "values": [0, 0.25, 0.5, 0.75, 1, 1.25, 1.5, 1.75, 2], "labelExpr": "datum.value % 0.5 == 0 ? format(datum.value, '.1f') : ''", "gridWidth": {"condition": {"test": "datum.value % 0.5 == 0", "value": 1}, "value": 0.5}, "tickOpacity": {"condition": {"test": "datum.value % 0.5 == 0", "value": 1}, "value": 0}}},
       "color": {"field": "s", "type": "nominal", "scale": {"domain": ["SD", "IOV", "POL"], "range": ["#1170B5", "#D9A300", "#FF4500"]},
         "legend": {"title": null, "orient": "none", "direction": "horizontal", "legendX": 1020, "legendY": 629, "padding": 0, "symbolType": "circle", "symbolSize": 220, "symbolStrokeWidth": 0, "labelFontSize": 14, "labelFont": "Liberation Sans", "labelColor": "black", "columnPadding": 25, "labelOffset": 5, "symbolOpacity": 1}}}},
    {"transform": [{"filter": "!isValid(datum.k)"}],
     "mark": {"type": "point", "shape": "circle", "filled": false, "size": 42, "strokeWidth": 0.9, "opacity": 0.75},
     "encoding": {
       "x": {"field": "x", "type": "quantitative", "axis": {"title": null, "labelOverlap": false, "values": [0, 0.5, 1, 1.5, 2, 2.5, 3, 3.5, 4], "labelExpr": "datum.value % 1 == 0 ? format(datum.value, '.0f') : ''", "gridWidth": {"condition": {"test": "datum.value % 1 == 0", "value": 1}, "value": 0.5}, "tickOpacity": {"condition": {"test": "datum.value % 1 == 0", "value": 1}, "value": 0}}},
       "y": {"field": "y", "type": "quantitative", "axis": {"title": null, "labelOverlap": false, "values": [0, 0.25, 0.5, 0.75, 1, 1.25, 1.5, 1.75, 2], "labelExpr": "datum.value % 0.5 == 0 ? format(datum.value, '.1f') : ''", "gridWidth": {"condition": {"test": "datum.value % 0.5 == 0", "value": 1}, "value": 0.5}, "tickOpacity": {"condition": {"test": "datum.value % 0.5 == 0", "value": 1}, "value": 0}}},
       "color": {"field": "s", "type": "nominal", "legend": null}}},
    {"transform": [{"filter": "!isValid(datum.k)"}, {"regression": "y", "on": "x", "groupby": ["r", "c", "p", "s"], "method": "poly", "order": 2}],
     "mark": {"type": "line", "strokeWidth": 1.8},
     "encoding": {
       "x": {"field": "x", "type": "quantitative", "axis": {"title": null, "labelOverlap": false, "values": [0, 0.5, 1, 1.5, 2, 2.5, 3, 3.5, 4], "labelExpr": "datum.value % 1 == 0 ? format(datum.value, '.0f') : ''", "gridWidth": {"condition": {"test": "datum.value % 1 == 0", "value": 1}, "value": 0.5}, "tickOpacity": {"condition": {"test": "datum.value % 1 == 0", "value": 1}, "value": 0}}},
       "y": {"field": "y", "type": "quantitative", "axis": {"title": null, "labelOverlap": false, "values": [0, 0.25, 0.5, 0.75, 1, 1.25, 1.5, 1.75, 2], "labelExpr": "datum.value % 0.5 == 0 ? format(datum.value, '.1f') : ''", "gridWidth": {"condition": {"test": "datum.value % 0.5 == 0", "value": 1}, "value": 0.5}, "tickOpacity": {"condition": {"test": "datum.value % 0.5 == 0", "value": 1}, "value": 0}}},
       "color": {"field": "s", "type": "nominal", "legend": null}}},
    {"transform": [{"filter": "datum.k == 'lab'"}],
     "mark": {"type": "text", "align": "left", "baseline": "top", "fontSize": 15.5, "lineHeight": 15, "lineBreak": "\n", "color": "black", "font": "Liberation Sans"},
     "encoding": {
       "x": {"datum": -0.04, "type": "quantitative", "axis": {"title": null, "labelOverlap": false, "values": [0, 0.5, 1, 1.5, 2, 2.5, 3, 3.5, 4], "labelExpr": "datum.value % 1 == 0 ? format(datum.value, '.0f') : ''", "gridWidth": {"condition": {"test": "datum.value % 1 == 0", "value": 1}, "value": 0.5}, "tickOpacity": {"condition": {"test": "datum.value % 1 == 0", "value": 1}, "value": 0}}},
       "y": {"datum": 2.0, "type": "quantitative", "axis": {"title": null, "labelOverlap": false, "values": [0, 0.25, 0.5, 0.75, 1, 1.25, 1.5, 1.75, 2], "labelExpr": "datum.value % 0.5 == 0 ? format(datum.value, '.1f') : ''", "gridWidth": {"condition": {"test": "datum.value % 0.5 == 0", "value": 1}, "value": 0.5}, "tickOpacity": {"condition": {"test": "datum.value % 0.5 == 0", "value": 1}, "value": 0}}},
       "text": {"field": "lab"}}},
    {"transform": [{"filter": "datum.k == 'lab'"}],
     "mark": {"type": "text", "align": "left", "baseline": "middle", "fontSize": 15, "color": "black", "font": "Liberation Sans"},
     "encoding": {
       "x": {"datum": -0.2, "type": "quantitative", "axis": {"title": null, "labelOverlap": false, "values": [0, 0.5, 1, 1.5, 2, 2.5, 3, 3.5, 4], "labelExpr": "datum.value % 1 == 0 ? format(datum.value, '.0f') : ''", "gridWidth": {"condition": {"test": "datum.value % 1 == 0", "value": 1}, "value": 0.5}, "tickOpacity": {"condition": {"test": "datum.value % 1 == 0", "value": 1}, "value": 0}}},
       "y": {"datum": 2.31, "type": "quantitative", "axis": {"title": null, "labelOverlap": false, "values": [0, 0.25, 0.5, 0.75, 1, 1.25, 1.5, 1.75, 2], "labelExpr": "datum.value % 0.5 == 0 ? format(datum.value, '.1f') : ''", "gridWidth": {"condition": {"test": "datum.value % 0.5 == 0", "value": 1}, "value": 0.5}, "tickOpacity": {"condition": {"test": "datum.value % 0.5 == 0", "value": 1}, "value": 0}}},
       "text": {"field": "t"}}},
    {"transform": [{"filter": "datum.k == 'note'"}],
     "mark": {"type": "text", "align": "right", "baseline": "middle", "fontSize": 14, "font": "Liberation Sans"},
     "encoding": {
       "x": {"field": "x", "type": "quantitative", "axis": {"title": null, "labelOverlap": false, "values": [0, 0.5, 1, 1.5, 2, 2.5, 3, 3.5, 4], "labelExpr": "datum.value % 1 == 0 ? format(datum.value, '.0f') : ''", "gridWidth": {"condition": {"test": "datum.value % 1 == 0", "value": 1}, "value": 0.5}, "tickOpacity": {"condition": {"test": "datum.value % 1 == 0", "value": 1}, "value": 0}}},
       "y": {"field": "y", "type": "quantitative", "axis": {"title": null, "labelOverlap": false, "values": [0, 0.25, 0.5, 0.75, 1, 1.25, 1.5, 1.75, 2], "labelExpr": "datum.value % 0.5 == 0 ? format(datum.value, '.1f') : ''", "gridWidth": {"condition": {"test": "datum.value % 0.5 == 0", "value": 1}, "value": 0.5}, "tickOpacity": {"condition": {"test": "datum.value % 0.5 == 0", "value": 1}, "value": 0}}},
       "text": {"field": "note"}, "color": {"field": "s", "type": "nominal", "legend": null}}}
  ]
},
"config": {
  "font": "Liberation Sans",
  "view": {"stroke": "#333333", "strokeWidth": 1},
  "axis": {"domain": false, "labelColor": "#4D4D4D", "labelFontSize": 10.5, "tickColor": "#333333", "tickSize": 3.5, "labelPadding": 2, "gridColor": "#EBEBEB"}
}
}
